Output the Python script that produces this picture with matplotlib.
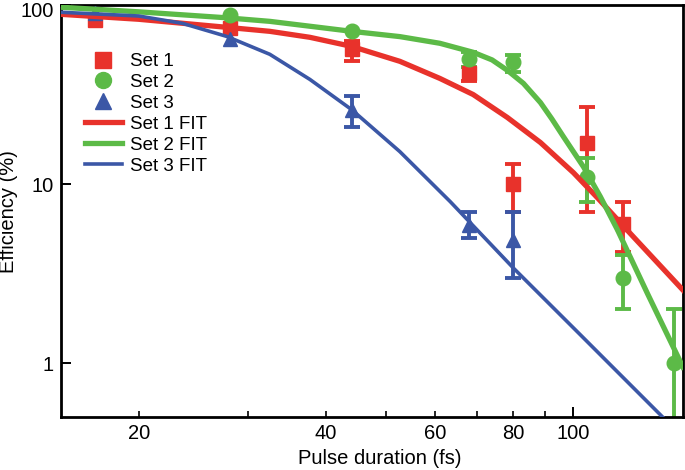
import numpy as np
import matplotlib
matplotlib.use("Agg")
import matplotlib.pyplot as plt
from matplotlib.ticker import FixedLocator, FixedFormatter, NullLocator
from matplotlib.lines import Line2D
from matplotlib.transforms import ScaledTranslation

plt.rcParams["font.family"] = ["Liberation Sans", "DejaVu Sans"]

RED = "#E8322B"
GREEN = "#5CBA47"
BLUE = "#3B57A6"

# measured points (pulse duration fs, efficiency %), error bounds where visible
set1_x = [17, 28, 44, 68, 80, 105, 120]
set1_y = [83, 75, 57, 42, 10, 17, 6]
set1_lo = [np.nan, np.nan, 49, 37.5, 7, 7, 4.2]
set1_hi = [np.nan, np.nan, 63, 45, 13, 27, 8]

set2_x = [28, 44, 68, 80, 105, 120, 145]
set2_y = [88, 71.5, 50, 48, 11, 3.0, 1.0]
set2_lo = [np.nan, np.nan, 45, 42.6, 8, 2, 0.3]
set2_hi = [np.nan, np.nan, 55, 53, 14, 4, 2]

set3_x = [17, 28, 44, 68, 80]
set3_y = [90, 65, 26, 5.9, 4.9]
set3_lo = [np.nan, np.nan, 21, 5.0, 3.0]
set3_hi = [np.nan, np.nan, 31, 7.0, 7.0]

# fit curves
fit1_x = [15, 20, 27.7, 32.5, 37.7, 44, 52.6, 61, 69, 78.3, 88.5, 100, 109.3, 119, 150]
fit1_y = [89, 83.5, 75.3, 71.5, 66.2, 58.9, 48.6, 39, 31.7, 23.6, 17.1, 11.6, 8.4, 6.08, 2.56]

fit2_x = [15, 20, 27.7, 32.5, 44, 52.6, 61, 69, 74, 78.3, 83.1, 88.5, 92.3, 96.3, 103.8,
          110.5, 117.7, 131.6, 150]
fit2_y = [97.5, 91.9, 85.1, 81.3, 71.5, 66.8, 61.3, 54.6, 49.5, 43.3, 36.6, 28.6, 23.2,
          18.5, 12.5, 8.51, 5.56, 2.44, 0.95]

fit3_x = [15, 20, 23.5, 27.7, 32.5, 37.7, 44, 52.6, 63.4, 80, 102.6, 139.1]
fit3_y = [91.4, 87.1, 79.3, 67, 53.2, 38.5, 26.1, 15.2, 7.98, 3.41, 1.44, 0.5]

x_labeled = [20, 40, 60, 80]


def draw_set(ax, x, y, lo, hi, color, marker, ms):
    x, y = np.asarray(x, float), np.asarray(y, float)
    lo, hi = np.asarray(lo, float), np.asarray(hi, float)
    m = ~np.isnan(lo)
    ax.errorbar(x[m], y[m], yerr=[y[m] - lo[m], hi[m] - y[m]], fmt="none",
                ecolor=color, elinewidth=2.8, capsize=5.5, capthick=2.8, zorder=2)
    ax.plot(x, y, ls="none", marker=marker, ms=ms, color=color, zorder=3)


fig = plt.figure(figsize=(6.85, 4.70), dpi=100)
ax = fig.add_axes([0.089, 0.1128, 0.908, 0.876])
ax.set_xscale("log")
ax.set_yscale("log")

draw_set(ax, set1_x, set1_y, set1_lo, set1_hi, RED, "s", 9.5)
draw_set(ax, set2_x, set2_y, set2_lo, set2_hi, GREEN, "o", 10.5)
draw_set(ax, set3_x, set3_y, set3_lo, set3_hi, BLUE, "^", 10)

ax.plot(fit1_x, fit1_y, color=RED, lw=3.8, zorder=4, solid_joinstyle="round")
ax.plot(fit2_x, fit2_y, color=GREEN, lw=3.8, zorder=4, solid_joinstyle="round")
ax.plot(fit3_x, fit3_y, color=BLUE, lw=2.6, zorder=4, solid_joinstyle="round")

ax.set_xlim(15, 150)
ax.set_ylim(0.5, 100)

minor_x = [20, 30, 40, 50, 60, 70, 80, 90]
ax.xaxis.set_major_locator(FixedLocator([100]))
ax.xaxis.set_major_formatter(FixedFormatter(["100"]))
ax.xaxis.set_minor_locator(FixedLocator(minor_x))
ax.xaxis.set_minor_formatter(
    FixedFormatter([str(v) if v in x_labeled else "" for v in minor_x]))
ax.yaxis.set_major_locator(FixedLocator([1, 10, 100]))
ax.yaxis.set_major_formatter(FixedFormatter(["1", "10", "100"]))
ax.yaxis.set_minor_locator(NullLocator())

ax.tick_params(which="both", direction="in", labelsize=14.5, top=False, right=False)
ax.tick_params(which="major", length=7, width=1.4, pad=5)
ax.tick_params(which="minor", length=4, width=1.2, pad=5)
for side in ax.spines.values():
    side.set_linewidth(2.0)

ax.set_xlabel("Pulse duration (fs)", fontsize=14.5)
ax.xaxis.set_label_coords(0.513, -0.077)
ax.set_ylabel("Efficiency (%)", fontsize=14.5, labelpad=2)

# keep the top "100" label inside the canvas
top_label = ax.yaxis.get_major_ticks()[2].label1
top_label.set_transform(top_label.get_transform()
                        + ScaledTranslation(0, -0.045, fig.dpi_scale_trans))

handles = [
    Line2D([], [], ls="none", marker="s", ms=11, color=RED),
    Line2D([], [], ls="none", marker="o", ms=11.5, color=GREEN),
    Line2D([], [], ls="none", marker="^", ms=11, color=BLUE),
    Line2D([], [], color=RED, lw=3.8),
    Line2D([], [], color=GREEN, lw=3.8),
    Line2D([], [], color=BLUE, lw=2.6),
]
labels = ["Set 1", "Set 2", "Set 3", "Set 1 FIT", "Set 2 FIT", "Set 3 FIT"]
ax.legend(handles, labels, loc="upper left", bbox_to_anchor=(0.0386, 0.884),
          frameon=False, fontsize=13.5, handlelength=1.95, handletextpad=0.45,
          labelspacing=0.2, borderpad=0, borderaxespad=0)

fig.savefig("out.png", dpi=100)
